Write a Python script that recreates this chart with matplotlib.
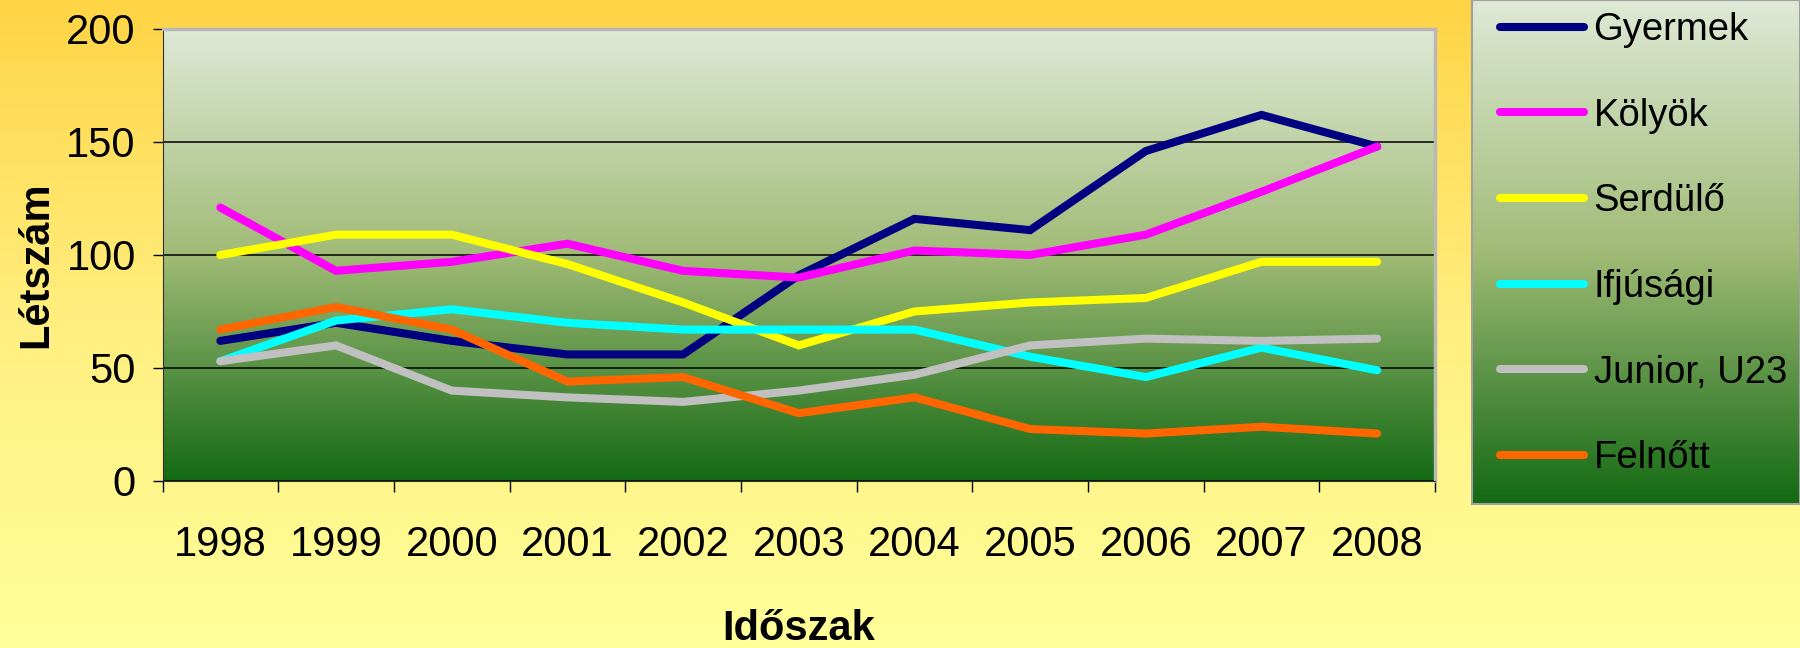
import numpy as np
import matplotlib
matplotlib.use('Agg')
import matplotlib.pyplot as plt
from matplotlib.colors import LinearSegmentedColormap

years = ['1998', '1999', '2000', '2001', '2002', '2003', '2004', '2005', '2006', '2007', '2008']

gyermek = [62, 70, 62, 56, 56, 91, 116, 111, 146, 162, 148]
kolyok = [121, 93, 97, 105, 93, 90, 102, 100, 109, 128, 148]
serdulo = [100, 109, 109, 96, 79, 60, 75, 79, 81, 97, 97]
ifjusagi = [53, 71, 76, 70, 67, 67, 67, 55, 46, 59, 49]
junior = [53, 60, 40, 37, 35, 40, 47, 60, 63, 62, 63]
felnott = [67, 77, 67, 44, 46, 30, 37, 23, 21, 24, 21]

series = [
    ('Gyermek', gyermek, '#000080'),
    ('Kölyök', kolyok, '#ff00ff'),
    ('Serdülő', serdulo, '#ffff00'),
    ('Ifjúsági', ifjusagi, '#00ffff'),
    ('Junior, U23', junior, '#c0c0c0'),
    ('Felnőtt', felnott, '#ff6600'),
]

plt.rcParams['font.family'] = ['Liberation Sans', 'DejaVu Sans']

W, H = 1800, 648
fig = plt.figure(figsize=(W / 100, H / 100), dpi=100)

# figure background: orange -> pale yellow
bg = fig.add_axes([0, 0, 1, 1])
bg_cmap = LinearSegmentedColormap.from_list('bg', ['#ffd445', '#ffef80', '#ffff99'])
bg.imshow(np.linspace(0, 1, 256).reshape(-1, 1), cmap=bg_cmap, aspect='auto',
          extent=[0, 1, 0, 1], origin='upper')
bg.set_axis_off()

green = LinearSegmentedColormap.from_list('green', ['#dfe9d6', '#a0bb76', '#146a14'])

# legend box
lx0, lx1, ly0, ly1 = 1472, 1800, 0, 504
lax = fig.add_axes([lx0 / W, 1 - ly1 / H, (lx1 - lx0) / W, (ly1 - ly0) / H])
lax.imshow(np.linspace(0, 1, 256).reshape(-1, 1), cmap=green, aspect='auto',
           extent=[0, 1, 0, 1], origin='upper')
lax.set_xticks([])
lax.set_yticks([])
for s in lax.spines.values():
    s.set_color('#a0a0a0')
    s.set_linewidth(1.5)

# plot area
px0, px1, py0, py1 = 162.5, 1435, 29, 481
ax = fig.add_axes([px0 / W, 1 - py1 / H, (px1 - px0) / W, (py1 - py0) / H])
ax.imshow(np.linspace(0, 1, 256).reshape(-1, 1), cmap=green, aspect='auto',
          extent=[-0.5, 10.5, 0, 200], origin='upper', zorder=0)

x = np.arange(len(years))
handles = []
for name, vals, col in series:
    ln, = ax.plot(x, vals, color=col, lw=5.8, solid_capstyle='round',
                  solid_joinstyle='miter', label=name, zorder=3)
    handles.append(ln)

ax.set_xlim(-0.5, 10.5)
ax.set_ylim(0, 200)
ax.set_yticks([0, 50, 100, 150, 200])
ax.yaxis.grid(True, color='black', lw=1.1, zorder=1)
ax.set_axisbelow(True)

ax.set_xticks(np.arange(-0.5, 11, 1))
ax.set_xticklabels([])
ax.set_xticks(x, minor=True)
ax.set_xticklabels(years, minor=True)
ax.tick_params(axis='x', which='major', direction='out', length=8, width=1)
ax.tick_params(axis='x', which='minor', length=0, pad=32, labelsize=30)
ax.tick_params(axis='y', direction='out', length=7.2, width=1, pad=12, labelsize=30)

for side in ['top', 'right']:
    ax.spines[side].set_color('#b8b8b8')
    ax.spines[side].set_linewidth(2.5)
ax.spines['left'].set_color('#303030')
ax.spines['bottom'].set_color('#303030')

ax.set_ylabel('Létszám', fontsize=30, fontweight='bold')
ax.yaxis.set_label_coords(-0.0835, 0.478)
ax.set_xlabel('Időszak', fontsize=30, fontweight='bold')
ax.xaxis.set_label_coords(0.5, -0.284)

leg = fig.legend(handles=handles, loc='upper left', bbox_to_anchor=(1500 / W, 1 - 12 / H),
                 frameon=False, prop={'size': 27.5},
                 handlelength=2.2, handletextpad=0.25, labelspacing=1.3,
                 borderpad=0, borderaxespad=0)

fig.savefig('out.png', dpi=100)
